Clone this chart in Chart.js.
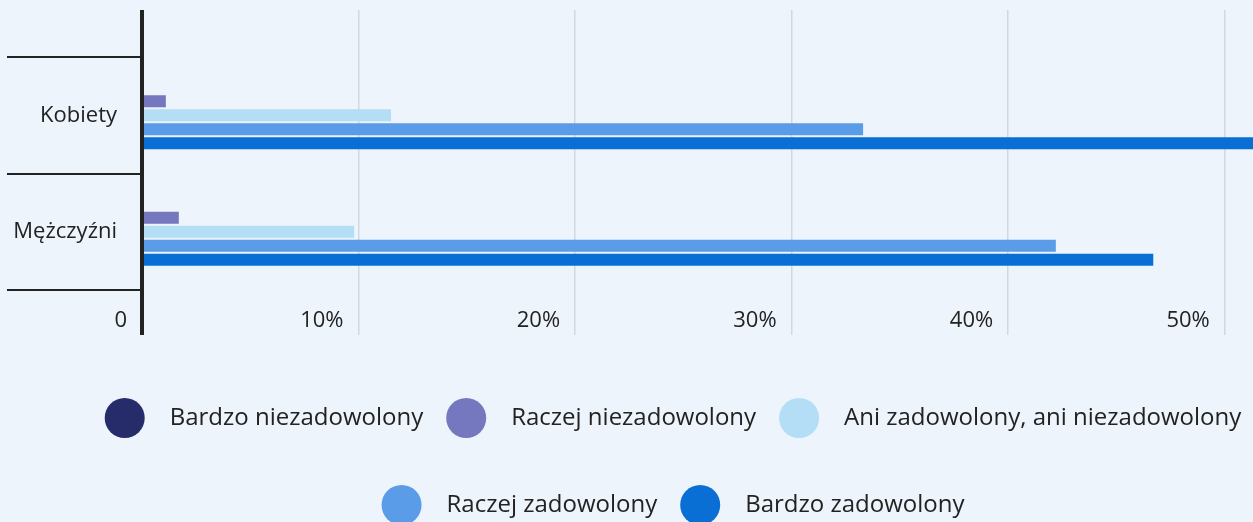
<!DOCTYPE html>
<html>
<head>
<meta charset="utf-8">
<script src="https://cdn.jsdelivr.net/npm/chart.js@4/dist/chart.umd.min.js"></script>
<style>
  html, body { margin: 0; padding: 0; background: #eef4fb; overflow: hidden; }
  #wrap { width: 1346px; height: 547px; }
</style>
</head>
<body>
<div id="wrap"><canvas id="myChart" width="1346" height="547"></canvas></div>
<script>
// categories
const categories = ["Kobiety", "Mężczyźni"];

// series values (percent), one value per category
const bardzoNiezadowolony = [0, 0];
const raczejNiezadowolony = [1.1, 1.7];
const aniAni = [11.5, 9.8];
const raczejZadowolony = [33.3, 42.2];
const bardzoZadowolony = [54, 46.7];

const seriesNames = [
  "Bardzo niezadowolony",
  "Raczej niezadowolony",
  "Ani zadowolony, ani niezadowolony",
  "Raczej zadowolony",
  "Bardzo zadowolony"
];
const seriesColors = ['#262b6a', '#7577bf', '#b4ddf6', '#5a9ce7', '#0a6fd4'];

const xMax = 55.6;

const tickGridColor = (c) => (c.tick && c.tick.value === 0 ? '#222222' : '#d2d8df');
const tickGridWidth = (c) => (c.tick && c.tick.value === 0 ? 4 : 1.5);

const allValues = [bardzoNiezadowolony, raczejNiezadowolony, aniAni, raczejZadowolony, bardzoZadowolony];

const data = {
  labels: categories,
  datasets: allValues.map(function (vals, i) {
    return {
      label: seriesNames[i],
      data: vals,
      backgroundColor: seriesColors[i],
      borderWidth: 0,
      barPercentage: 0.86,
      categoryPercentage: 0.6
    };
  })
};

// round legend markers, drawn at the legend's own item boxes
const legendDots = {
  id: 'legendDots',
  afterDraw(chart) {
    const lg = chart.legend;
    if (!lg || !lg.legendHitBoxes) return;
    const ctx = chart.ctx;
    lg.legendHitBoxes.forEach(function (hb, i) {
      ctx.save();
      ctx.fillStyle = chart.data.datasets[i].backgroundColor;
      ctx.beginPath();
      ctx.arc(hb.left + 20, hb.top + hb.height / 2, 20, 0, Math.PI * 2);
      ctx.fill();
      ctx.restore();
    });
  }
};

new Chart(document.getElementById("myChart").getContext("2d"), {
  type: 'bar',
  data: data,
  plugins: [legendDots],
  options: {
    indexAxis: 'y',
    responsive: false,
    animation: false,
    devicePixelRatio: 1,
    layout: { padding: { top: 10, left: 0, right: 0, bottom: 0 } },
    scales: {
      x: {
        type: 'linear',
        position: 'bottom',
        min: 0,
        max: xMax,
        ticks: {
          stepSize: 10,
          includeBounds: false,
          align: 'end',
          labelOffset: -15,
          padding: -27,
          color: '#222222',
          font: { family: 'Open Sans', size: 22 },
          callback: (v) => (v === 0 ? '0' : v + '%')
        },
        grid: {
          color: tickGridColor,
          lineWidth: tickGridWidth,
          tickLength: 45
        },
        border: { display: false },
        afterFit: (s) => { s.height = 73; }
      },
      x2: {
        type: 'linear',
        axis: 'x',
        position: 'top',
        min: 0,
        max: xMax,
        ticks: { display: false, stepSize: 10, includeBounds: false },
        grid: {
          drawOnChartArea: false,
          color: tickGridColor,
          lineWidth: tickGridWidth,
          tickLength: 47
        },
        border: { display: false }
      },
      y: {
        type: 'category',
        position: 'left',
        ticks: {
          color: '#222222',
          padding: -110,
          font: { family: 'Open Sans', size: 22 }
        },
        grid: {
          drawOnChartArea: false,
          color: '#222222',
          lineWidth: 2,
          tickLength: 135
        },
        border: { display: true, color: '#222222', width: 4 },
        afterFit: (s) => { s.width = 142; }
      }
    },
    plugins: {
      tooltip: { enabled: false },
      legend: {
        position: 'bottom',
        labels: {
          boxWidth: 53,
          boxHeight: 64,
          padding: 23,
          color: '#222222',
          font: { family: 'Open Sans', size: 24 },
          generateLabels(chart) {
            const items = Chart.defaults.plugins.legend.labels.generateLabels(chart);
            items.forEach(function (it) {
              it.fillStyle = 'rgba(0,0,0,0)';
              it.strokeStyle = 'rgba(0,0,0,0)';
              it.lineWidth = 0;
            });
            return items;
          }
        }
      }
    }
  }
});
</script>
</body>
</html>
